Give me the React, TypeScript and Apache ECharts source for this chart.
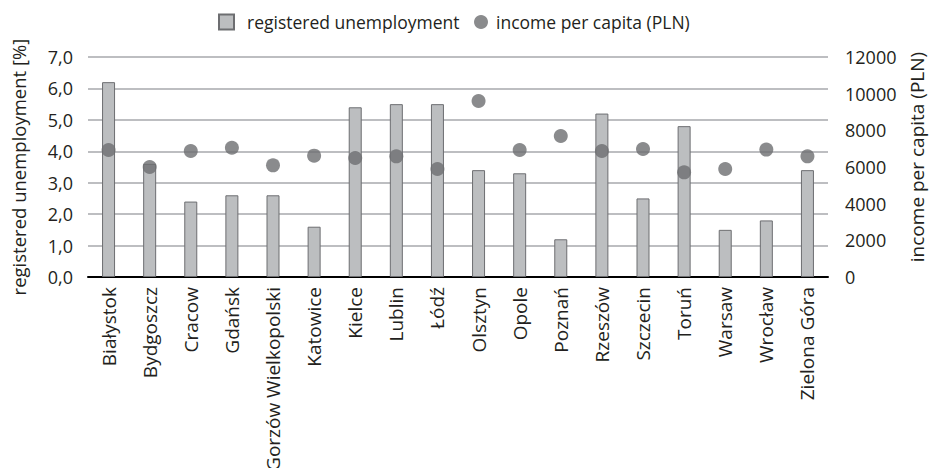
import React, { useEffect, useRef } from "react";
import * as echarts from "echarts";

// Cities on the category axis
const cities: string[] = [
  "Białystok", "Bydgoszcz", "Cracow", "Gdańsk", "Gorzów Wielkopolski", "Katowice",
  "Kielce", "Lublin", "Łódź", "Olsztyn", "Opole", "Poznań", "Rzeszów",
  "Szczecin", "Toruń", "Warsaw", "Wrocław", "Zielona Góra",
];

// Registered unemployment rate [%]
const unemployment: number[] = [
  6.2, 3.6, 2.4, 2.6, 2.6, 1.6, 5.4, 5.5, 5.5, 3.4, 3.3, 1.2, 5.2, 2.5, 4.8, 1.5, 1.8, 3.4,
];

// Income per capita (PLN)
const income: number[] = [
  6930, 6000, 6870, 7050, 6090, 6620, 6490, 6580, 5890, 9600, 6930, 7690, 6870, 6980, 5710, 5890, 6950, 6580,
];

const leftTicks = { min: 0, max: 7, interval: 1 };
const rightTicks = { min: 0, max: 12000, interval: 2000 };

const FONT = "'Open Sans', sans-serif";
const TEXT = "#231f20";

export default function App() {
  const ref = useRef<HTMLDivElement>(null);

  useEffect(() => {
    if (!ref.current) return;
    const chart = echarts.init(ref.current, null, { renderer: "svg" });
    chart.setOption({
      animation: false,
      backgroundColor: "#ffffff",
      textStyle: { fontFamily: FONT },
      legend: [
        {
          left: 218,
          top: 13,
          padding: 0,
          data: [{ name: "registered unemployment", icon: "rect" }],
          itemWidth: 15,
          itemHeight: 15,
          textStyle: { fontFamily: FONT, fontSize: 17.5, color: TEXT, padding: [0, 0, 0, 8] },
        },
        {
          left: 474,
          top: 13,
          padding: 0,
          data: [{ name: "income per capita (PLN)", icon: "circle" }],
          itemWidth: 14,
          itemHeight: 14,
          textStyle: { fontFamily: FONT, fontSize: 17.5, color: TEXT, padding: [0, 0, 0, 3] },
        },
      ],
      grid: {
        left: 88,
        right: 102,
        top: 57,
        bottom: 191,
        outerBoundsMode: "none",
        containLabel: false,
      },
      xAxis: {
        type: "category",
        data: cities,
        axisLine: { show: true, lineStyle: { color: "#000000", width: 2 } },
        axisTick: { show: false },
        axisLabel: {
          rotate: 90,
          interval: 0,
          margin: 10,
          fontFamily: FONT,
          fontSize: 19,
          color: TEXT,
        },
      },
      yAxis: [
        {
          type: "value",
          ...leftTicks,
          name: "registered unemployment [%]",
          nameLocation: "middle",
          nameRotate: 90,
          nameGap: 60,
          nameTextStyle: { fontFamily: FONT, fontSize: 18.5, color: TEXT },
          axisLine: { show: false },
          axisTick: { show: false },
          axisLabel: {
            margin: 15,
            fontFamily: FONT,
            fontSize: 18,
            color: TEXT,
            formatter: (v: number) => v.toFixed(1).replace(".", ","),
          },
          splitLine: { show: true, lineStyle: { color: "#a7a9ac", width: 1.5 } },
        },
        {
          type: "value",
          ...rightTicks,
          name: "income per capita (PLN)",
          nameLocation: "middle",
          nameRotate: 90,
          nameGap: 79,
          nameTextStyle: { fontFamily: FONT, fontSize: 19, color: TEXT, padding: [0, 0, 0, 20] },
          axisLine: { show: false },
          axisTick: { show: false },
          axisLabel: {
            margin: 17,
            fontFamily: FONT,
            fontSize: 18,
            color: TEXT,
            formatter: (v: number) => String(v),
          },
          splitLine: { show: false },
        },
      ],
      series: [
        {
          name: "registered unemployment",
          type: "bar",
          yAxisIndex: 0,
          data: unemployment,
          barWidth: 13,
          itemStyle: { color: "#bcbec0", borderColor: "#6d6e71", borderWidth: 1 },
        },
        {
          name: "income per capita (PLN)",
          type: "scatter",
          yAxisIndex: 1,
          data: income,
          symbol: "circle",
          symbolSize: 14,
          itemStyle: { color: "#6d6e71" },
        },
      ],
    });
    return () => chart.dispose();
  }, []);

  return (
    <div
      ref={ref}
      style={{ position: "fixed", left: 0, top: 0, width: 930, height: 468 }}
    />
  );
}
